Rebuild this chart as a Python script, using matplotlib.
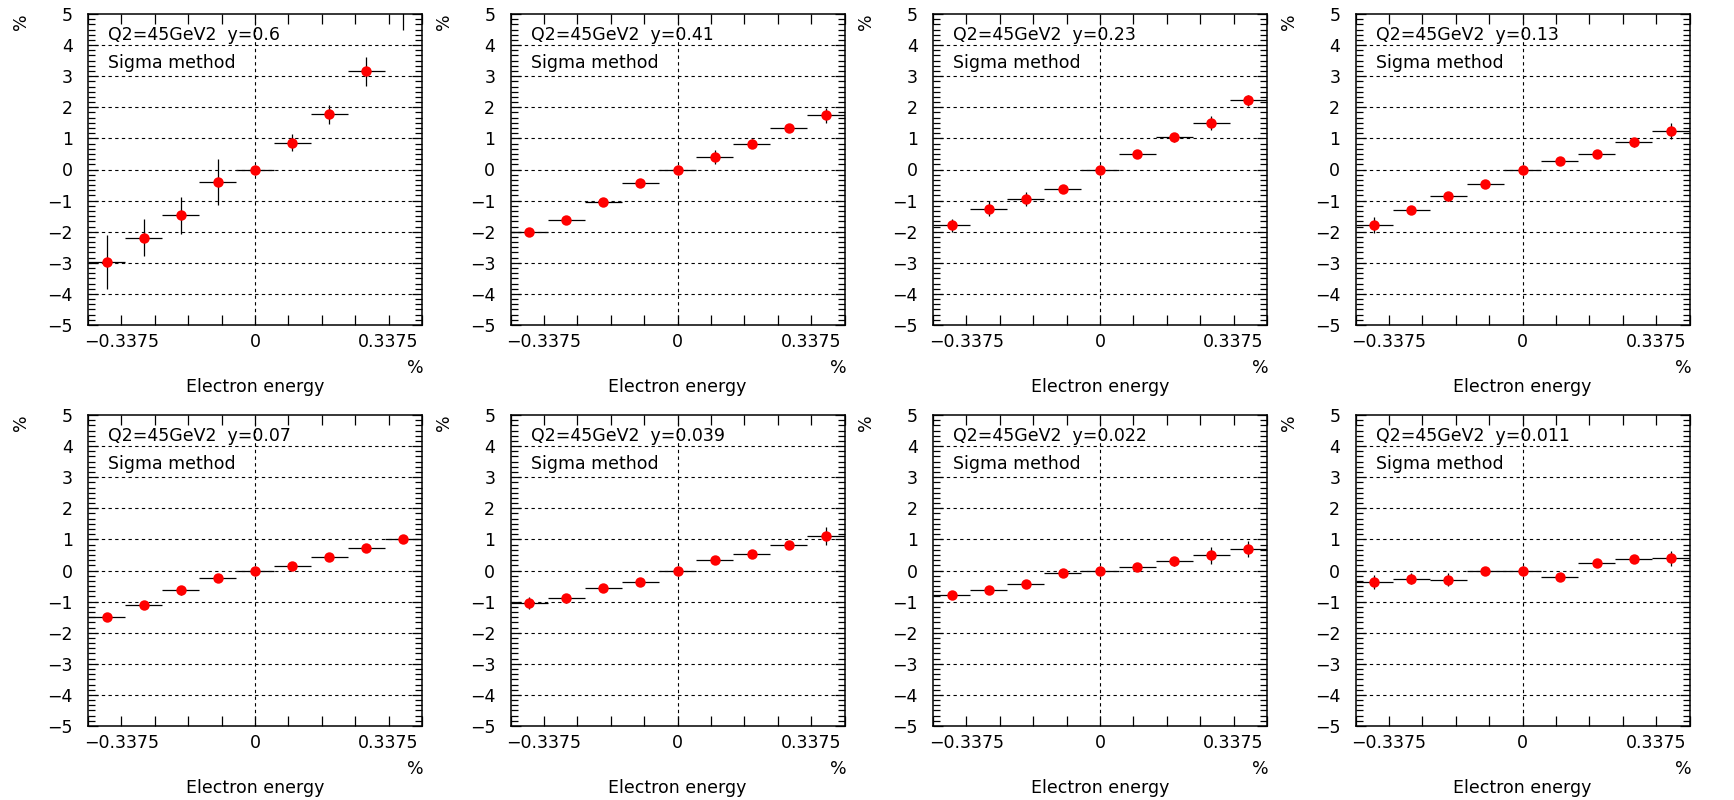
import matplotlib

matplotlib.use("Agg")
import matplotlib.pyplot as plt
from matplotlib.ticker import FixedLocator, MultipleLocator

# bin centres of the electron energy shift (%)
x_centres = [-0.375, -0.28125, -0.1875, -0.09375, 0.0, 0.09375, 0.1875, 0.28125, 0.375]
x_halfwidth = 0.046875

y_labels = ["0.6", "0.41", "0.23", "0.13", "0.07", "0.039", "0.022", "0.011"]

shift_y060 = [-2.98, -2.19, -1.47, -0.39, 0.0, 0.86, 1.77, 3.16, 5.4]
err_y060 = [0.86, 0.60, 0.60, 0.74, 0.0, 0.28, 0.31, 0.46, 0.9]
shift_y041 = [-2.00, -1.63, -1.06, -0.44, 0.0, 0.41, 0.83, 1.34, 1.75]
err_y041 = [0.12, 0.08, 0.08, 0.08, 0.0, 0.22, 0.15, 0.10, 0.24]
shift_y023 = [-1.80, -1.26, -0.95, -0.62, 0.0, 0.51, 1.03, 1.49, 2.22]
err_y023 = [0.22, 0.25, 0.22, 0.08, 0.0, 0.08, 0.15, 0.22, 0.17]
shift_y013 = [-1.78, -1.29, -0.86, -0.46, 0.0, 0.26, 0.51, 0.87, 1.23]
err_y013 = [0.25, 0.10, 0.15, 0.08, 0.0, 0.08, 0.08, 0.15, 0.25]
shift_y007 = [-1.49, -1.10, -0.64, -0.23, 0.0, 0.15, 0.45, 0.71, 1.00]
err_y007 = [0.08, 0.10, 0.15, 0.10, 0.0, 0.08, 0.10, 0.10, 0.12]
shift_y0039 = [-1.04, -0.90, -0.57, -0.36, 0.0, 0.33, 0.53, 0.83, 1.11]
err_y0039 = [0.20, 0.15, 0.10, 0.10, 0.0, 0.10, 0.10, 0.12, 0.28]
shift_y0022 = [-0.79, -0.64, -0.45, -0.08, 0.0, 0.11, 0.30, 0.49, 0.69]
err_y0022 = [0.10, 0.10, 0.10, 0.10, 0.0, 0.12, 0.15, 0.28, 0.27]
shift_y0011 = [-0.36, -0.26, -0.29, -0.02, 0.0, -0.20, 0.24, 0.36, 0.39]
err_y0011 = [0.22, 0.18, 0.20, 0.08, 0.0, 0.08, 0.10, 0.10, 0.25]

shifts = [shift_y060, shift_y041, shift_y023, shift_y013,
          shift_y007, shift_y0039, shift_y0022, shift_y0011]
errors = [err_y060, err_y041, err_y023, err_y013,
          err_y007, err_y0039, err_y0022, err_y0011]

W, H = 1734, 800
plt.rcParams["font.family"] = "DejaVu Sans"
fig = plt.figure(figsize=(W / 100, H / 100), dpi=100)
fs = 12.5
dash = (0, (3, 3))
xmax = 0.421875

for i in range(8):
    row, col = divmod(i, 4)
    left = 88 + col * 422.5
    top = 14 + row * 401
    ax = fig.add_axes([left / W, 1 - (top + 311) / H, 334 / W, 311 / H])
    ax.set_xlim(-xmax, xmax)
    ax.set_ylim(-5, 5)

    for yv in range(-4, 5):
        ax.axhline(yv, color="black", lw=0.8, ls=dash, zorder=1)
    ax.axvline(0, color="black", lw=0.8, ls=dash, zorder=1)

    ax.errorbar(x_centres, shifts[i], yerr=errors[i], xerr=x_halfwidth,
                fmt="o", color="red", ms=7.5, mec="none",
                ecolor="black", elinewidth=0.9, capsize=0, zorder=3)

    ax.xaxis.set_major_locator(FixedLocator([-0.3375, 0, 0.3375]))
    ax.xaxis.set_minor_locator(MultipleLocator(0.084375))
    ax.set_xticklabels(["\u22120.3375", "0", "0.3375"])
    ax.yaxis.set_minor_locator(MultipleLocator(1 / 6))
    ax.set_yticks(range(-5, 6))
    ax.set_yticklabels(["\u2212%d" % -v if v < 0 else "%d" % v for v in range(-5, 6)])

    ax.tick_params(axis="both", which="both", direction="in", top=True, right=True,
                   width=0.9, labelsize=fs, color="black")
    ax.tick_params(axis="x", which="both", length=7, pad=6)
    ax.tick_params(axis="y", which="major", length=7, pad=11)
    ax.tick_params(axis="y", which="minor", length=5)
    for sp in ax.spines.values():
        sp.set_linewidth(1.1)

    ax.text(0.06, 0.932, "Q2=45GeV2  y=" + y_labels[i], transform=ax.transAxes,
            fontsize=fs, va="center", ha="left")
    ax.text(0.06, 0.842, "Sigma method", transform=ax.transAxes,
            fontsize=fs, va="center", ha="left")

    # axis titles
    ax.text(-0.2, 0.975, "%", transform=ax.transAxes, fontsize=fs,
            rotation=90, ha="center", va="center")
    ax.text(0.98, -0.139, "%", transform=ax.transAxes, fontsize=fs,
            ha="center", va="center")
    ax.text(0.5, -0.2, "Electron energy", transform=ax.transAxes, fontsize=fs,
            ha="center", va="center")

fig.savefig("out.png", dpi=100)
plt.close(fig)
